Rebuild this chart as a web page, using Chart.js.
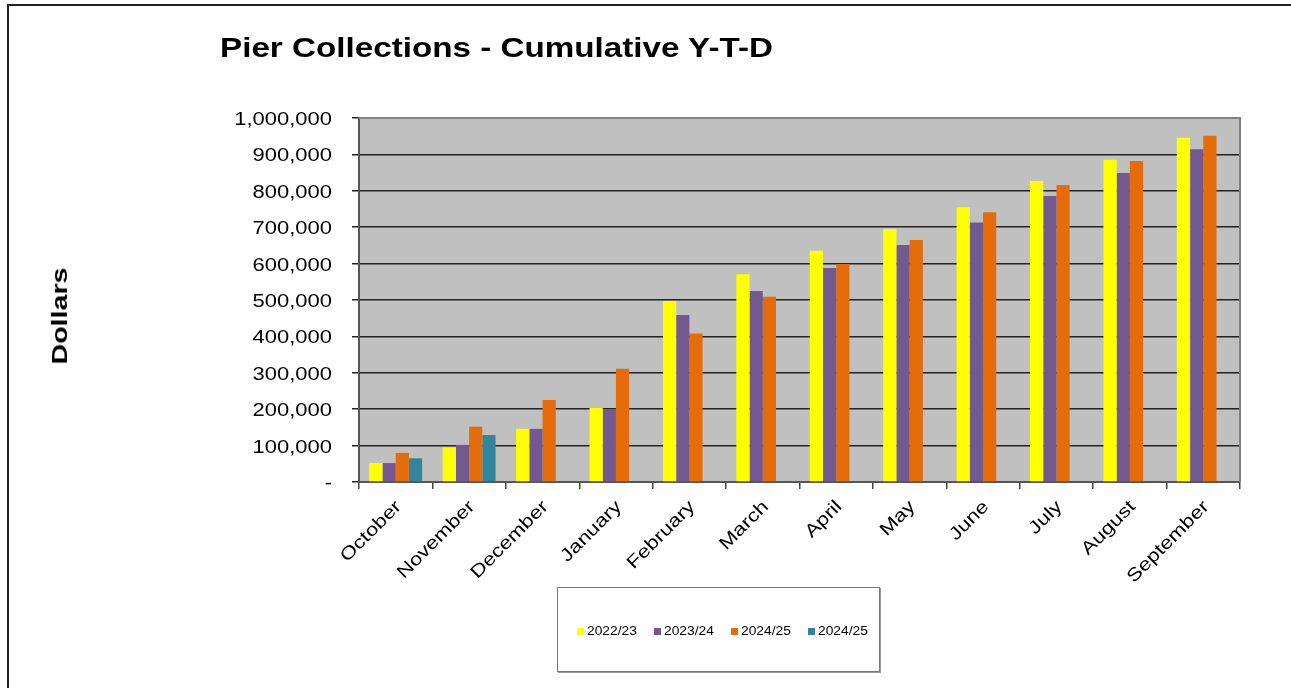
<!DOCTYPE html>
<html>
<head>
<meta charset="utf-8">
<title>Pier Collections - Cumulative Y-T-D</title>
<script src="https://cdn.jsdelivr.net/npm/chart.js@4.4.1/dist/chart.umd.min.js"></script>
<style>
    html, body { margin: 0; padding: 0; background: #fff; }
    body { width: 1291px; height: 688px; position: relative; overflow: hidden; font-family: "Liberation Sans", Arial, sans-serif; }
    #frame { position: absolute; left: 7px; top: 4px; width: 1300px; height: 700px; border-left: 2px solid #222; border-top: 2px solid #222; }
    #chartWrap { position: absolute; left: 0; top: 0; width: 1291px; height: 688px; }
    #title { position: absolute; left: 220px; top: 32px; font-size: 28px; font-weight: bold; color: #000; white-space: nowrap; transform: scaleX(1.186); transform-origin: left center; }
    #yTitle { position: absolute; left: 60px; top: 316px; font-size: 22px; font-weight: bold; transform: translate(-50%, -50%) rotate(-90deg) scaleX(1.3); white-space: nowrap; }
    #legend { position: absolute; left: 557px; top: 587px; width: 321px; height: 83px; border: 1px solid #777; background: #fff; box-shadow: 1px 1px 0 #999; }
    .item { position: absolute; top: 36px; font-size: 12px; color: #000; white-space: nowrap; }
    .item .box { display: inline-block; width: 7px; height: 7px; margin-right: 3px; }
    .item .txt { display: inline-block; transform: scaleX(1.15); transform-origin: left center; }
</style>
</head>
<body>
<div id="frame"></div>
<div id="chartWrap"><canvas id="myChart" width="1291" height="688"></canvas></div>
<div id="title">Pier Collections - Cumulative Y-T-D</div>
<div id="yTitle">Dollars</div>
<div id="legend"></div>
<script>
const months = ['October', 'November', 'December', 'January', 'February', 'March',
                'April', 'May', 'June', 'July', 'August', 'September'];

const fy2223 = [52000, 95000, 146000, 203000, 497000, 571000, 635000, 695000, 755000, 827000, 885000, 946000];
const fy2324 = [52000, 102000, 146000, 200000, 459000, 525000, 588000, 651000, 713000, 786000, 849000, 914000];
const fy2425 = [80000, 152000, 225000, 311000, 408000, 509000, 599000, 665000, 741000, 816000, 882000, 951000];
const fy2425b = [65000, 129000, null, null, null, null, null, null, null, null, null, null];

const seriesLabels = ['2022/23', '2023/24', '2024/25', '2024/25'];
const seriesColors = ['#FFFF00', '#725990', '#E56C0A', '#31859C'];

const yTickFormat = v => v === 0 ? '-' : v.toLocaleString('en-US');
const TEXT_STRETCH = 1.22;

// grey plot area with a border on all four sides
const plotBackground = {
    id: 'plotBackground',
    beforeDraw(chart) {
        const { ctx, chartArea: a } = chart;
        ctx.save();
        ctx.fillStyle = '#C0C0C0';
        ctx.fillRect(a.left, a.top, a.right - a.left, a.bottom - a.top);
        ctx.restore();
    },
    afterDraw(chart) {
        const { ctx, chartArea: a } = chart;
        ctx.save();
        ctx.strokeStyle = '#808080';
        ctx.lineWidth = 2;
        ctx.beginPath();
        ctx.moveTo(a.left, a.top);
        ctx.lineTo(a.right, a.top);
        ctx.lineTo(a.right, a.bottom);
        ctx.stroke();
        ctx.restore();
    }
};

// axis labels in a slightly wide face, placed from the scales' own tick positions
const wideTickLabels = {
    id: 'wideTickLabels',
    afterDraw(chart) {
        const { ctx } = chart;
        const xs = chart.scales.x, ys = chart.scales.y;
        ctx.save();
        ctx.fillStyle = '#000';
        ctx.font = '18px "Liberation Sans", Arial, sans-serif';
        ctx.textAlign = 'right';
        ctx.textBaseline = 'middle';

        ys.ticks.forEach((t, i) => {
            const y = ys.getPixelForTick(i);
            ctx.save();
            ctx.translate(332, y + 2);
            ctx.scale(TEXT_STRETCH, 1);
            ctx.fillText(yTickFormat(t.value), 0, 0);
            ctx.restore();
        });

        months.forEach((m, i) => {
            const x = xs.getPixelForTick(i);
            ctx.save();
            ctx.translate(x + 3, xs.top + 22);
            ctx.rotate(-Math.PI / 4);
            ctx.scale(TEXT_STRETCH, 1);
            ctx.fillText(m, 0, 0);
            ctx.restore();
        });
        ctx.restore();
    }
};

const ctx = document.getElementById('myChart').getContext('2d');
const myChart = new Chart(ctx, {
    type: 'bar',
    data: {
        labels: months,
        datasets: [fy2223, fy2324, fy2425, fy2425b].map((d, i) => ({
            label: seriesLabels[i],
            data: d,
            backgroundColor: seriesColors[i],
            borderWidth: 0,
            categoryPercentage: 0.72,
            barPercentage: 1.0
        }))
    },
    options: {
        responsive: false,
        animation: false,
        layout: { padding: { top: 118, right: 51, left: 0, bottom: 0 } },
        plugins: {
            legend: { display: false },
            tooltip: { enabled: false }
        },
        scales: {
            x: {
                offset: true,
                grid: { offset: true, drawOnChartArea: false, drawTicks: true, tickLength: 7, color: '#444', lineWidth: 1.5 },
                border: { color: '#555', width: 2 },
                ticks: { display: false, autoSkip: false },
                afterFit(scale) { scale.height = 206; }
            },
            y: {
                min: 0,
                max: 1000000,
                grid: { color: '#222', lineWidth: 1.5, tickLength: 7 },
                border: { color: '#555', width: 2 },
                ticks: { display: false, stepSize: 100000 },
                afterFit(scale) { scale.width = 359; }
            }
        }
    },
    plugins: [plotBackground, wideTickLabels]
});

// legend entries
const legend = document.getElementById('legend');
const itemLeft = [19, 96, 173, 250];
seriesLabels.forEach((name, i) => {
    const el = document.createElement('div');
    el.className = 'item';
    el.style.left = itemLeft[i] + 'px';
    el.innerHTML = '<span class="box" style="background:' + seriesColors[i] + '"></span><span class="txt">' + name + '</span>';
    legend.appendChild(el);
});
</script>
</body>
</html>
